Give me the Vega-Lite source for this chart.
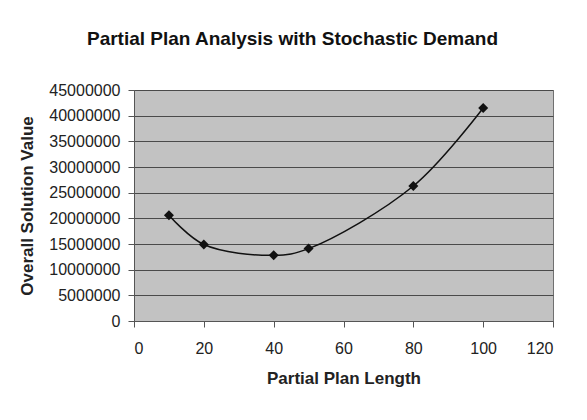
{
  "$schema": "https://vega.github.io/schema/vega-lite/v6.json",
  "autosize": {"type": "none"},
  "width": 419,
  "height": 231,
  "padding": {"left": 134, "top": 90, "right": 34, "bottom": 99},
  "background": "white",
  "title": {
    "text": "Partial Plan Analysis with Stochastic Demand",
    "font": "Liberation Sans",
    "fontSize": 19,
    "fontWeight": "bold",
    "color": "#111111",
    "anchor": "middle",
    "frame": "group",
    "dx": -51,
    "offset": 33
  },
  "config": {
    "view": {"fill": "#c2c2c2", "stroke": "#707070", "strokeWidth": 1},
    "axis": {
      "labelFont": "Liberation Sans",
      "labelFontSize": 16,
      "labelColor": "#222222",
      "titleFont": "Liberation Sans",
      "titleFontSize": 17,
      "titleFontWeight": "bold",
      "titleColor": "#222222",
      "domainColor": "#555555",
      "tickColor": "#555555",
      "tickSize": 6
    }
  },
  "data": {
    "values": [
      {"length": 10, "value": 20600000},
      {"length": 20, "value": 14900000},
      {"length": 40, "value": 12800000},
      {"length": 50, "value": 14100000},
      {"length": 80, "value": 26300000},
      {"length": 100, "value": 41500000}
    ]
  },
  "encoding": {
    "x": {
      "field": "length",
      "type": "quantitative",
      "title": "Partial Plan Length",
      "scale": {"domain": [0, 120], "nice": false, "zero": false},
      "axis": {
        "values": [0, 20, 40, 60, 80, 100, 120],
        "grid": false,
        "labelPadding": 13,
        "titlePadding": 14
      }
    },
    "y": {
      "field": "value",
      "type": "quantitative",
      "title": "Overall Solution Value",
      "scale": {"domain": [0, 45000000], "nice": false},
      "axis": {
        "values": [0, 5000000, 10000000, 15000000, 20000000, 25000000, 30000000, 35000000, 40000000, 45000000],
        "format": "d",
        "grid": true,
        "gridColor": "#4a4a4a",
        "gridWidth": 1,
        "labelPadding": 8,
        "titlePadding": 12
      }
    }
  },
  "layer": [
    {
      "mark": {"type": "line", "interpolate": "catmull-rom", "color": "#111111", "strokeWidth": 1.5}
    },
    {
      "mark": {"type": "point", "shape": "diamond", "filled": true, "size": 100, "color": "#111111", "opacity": 1}
    }
  ]
}
